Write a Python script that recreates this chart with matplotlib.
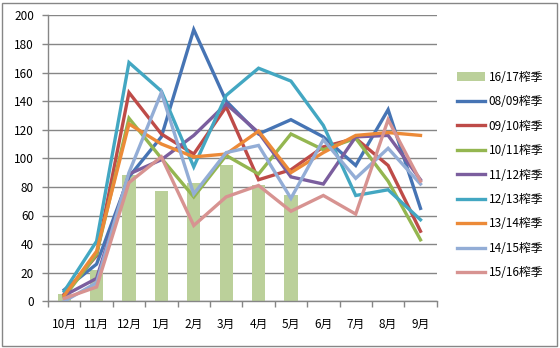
import numpy as np
import matplotlib.pyplot as plt
from matplotlib.patches import Rectangle

plt.rcParams['font.family'] = ['Noto Sans CJK SC', 'DejaVu Sans']

months = ['10月', '11月', '12月', '1月', '2月', '3月', '4月', '5月', '6月', '7月', '8月', '9月']

# 16/17 榨季 (只有到5月的数据)
s1617 = [5, 22, 88, 77, 83, 95, 81, 74]

s0809 = [8, 26, 87, 115, 190, 140, 117, 127, 115, 95, 134, 65]
s0910 = [5, 32, 146, 117, 103, 136, 85, 92, 108, 114, 95, 49]
s1011 = [3, 33, 128, 100, 73, 102, 89, 117, 106, 114, 84, 43]
s1112 = [4, 16, 89, 99, 116, 138, 118, 87, 82, 115, 116, 85]
s1213 = [7, 42, 167, 147, 94, 144, 163, 154, 123, 74, 78, 57]
s1314 = [4, 35, 124, 110, 101, 103, 119, 90, 104, 116, 118, 116]
s1415 = [0, 13, 90, 146, 75, 104, 109, 72, 113, 86, 107, 82]
s1516 = [2, 10, 83, 101, 53, 73, 81, 63, 74, 61, 127, 84]

line_labels = ['08/09榨季', '09/10榨季', '10/11榨季', '11/12榨季', '12/13榨季',
               '13/14榨季', '14/15榨季', '15/16榨季']
line_data = [s0809, s0910, s1011, s1112, s1213, s1314, s1415, s1516]
line_colors = ['#4674B4', '#BE4B48', '#94B650', '#7B5E9E', '#43A7C2',
               '#EC8A38', '#93ADD6', '#D79391']

fig = plt.figure(figsize=(5.6, 3.48), dpi=100)
ax = fig.add_axes([48 / 560, 46.7 / 348, 388.7 / 560, 286 / 348])

x = np.arange(len(months))
bars = ax.bar(x[:len(s1617)], s1617, width=0.41, color='#BBD09A', zorder=2,
              label='16/17榨季')

lines = []
for vals, lab, col in zip(line_data, line_labels, line_colors):
    ln, = ax.plot(x, vals, color=col, lw=2.4, label=lab, zorder=3,
                  solid_joinstyle='miter')
    lines.append(ln)

ax.set_xlim(-0.5, len(months) - 0.5)
ax.set_ylim(0, 200)
ax.set_yticks(np.arange(0, 201, 20))
ax.yaxis.grid(True, color='#868686', lw=1)
ax.set_axisbelow(True)

ax.set_xticks(x)
ax.set_xticklabels(months, fontsize=8.5)
ax.set_xticks(np.arange(-0.5, len(months), 1), minor=True)
ax.tick_params(axis='x', which='major', length=0, pad=12)
ax.tick_params(axis='x', which='minor', length=4, color='#868686', width=1)
ax.tick_params(axis='y', length=4, color='#868686', width=1, labelsize=8.5, pad=6)

for side in ['top', 'right']:
    ax.spines[side].set_visible(False)
for side in ['left', 'bottom']:
    ax.spines[side].set_color('#868686')
    ax.spines[side].set_linewidth(1)

ax.legend([bars] + lines, ['16/17榨季'] + line_labels, loc='upper left',
          bbox_to_anchor=(452 / 560, 282 / 348), bbox_transform=fig.transFigure,
          frameon=False, fontsize=8.5, handlelength=2.4, handletextpad=0.3,
          labelspacing=0.97, borderaxespad=0)

fig.patches.append(Rectangle((2 / 560, 2 / 348), 555 / 560, 343 / 348,
                             transform=fig.transFigure, fill=False,
                             edgecolor='#868686', lw=1))

fig.savefig('out.png', dpi=100)
